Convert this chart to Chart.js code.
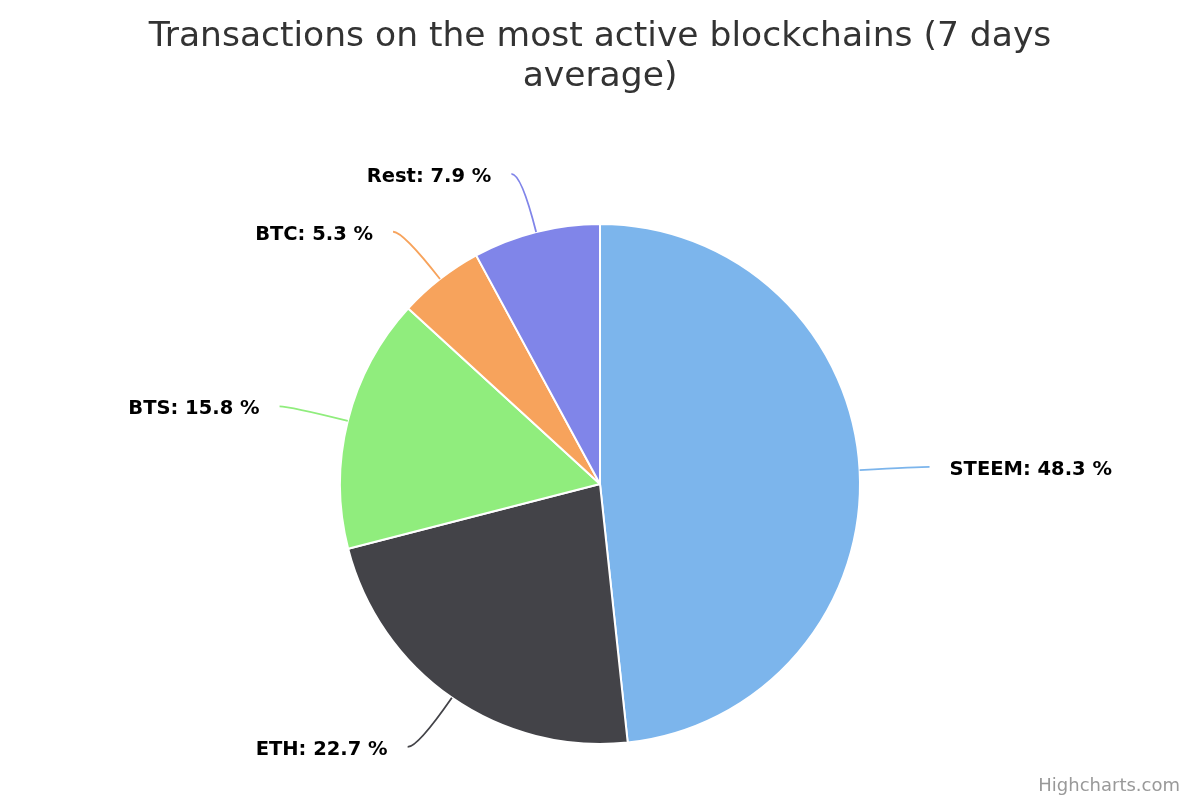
<!DOCTYPE html>
<html>
<head>
<meta charset="utf-8">
<script src="https://cdn.jsdelivr.net/npm/chart.js@4.4.0/dist/chart.umd.min.js"></script>
<style>
  html, body { margin: 0; padding: 0; background: #fff; }
  #wrap { width: 1200px; height: 800px; position: relative; }
</style>
</head>
<body>
<div id="wrap"><canvas id="pie" width="1200" height="800"></canvas></div>
<script>
// --- data ---
const chains = ['STEEM', 'ETH', 'BTS', 'BTC', 'Rest'];
const shares = [48.3, 22.7, 15.8, 5.3, 7.9];
const sliceColors = ['#7cb5ec', '#434348', '#90ed7d', '#f7a35c', '#8085e9'];
const titleLines = ['Transactions on the most active blockchains (7 days', 'average)'];

const FONT = '"DejaVu Sans", "Lucida Grande", sans-serif';

// title, credits and Highcharts-like data labels with connectors
const decorations = {
  id: 'decorations',
  afterDatasetsDraw(chart) {
    const c = chart.ctx;
    c.save();

    // title
    c.fillStyle = '#333333';
    c.font = '34.5px ' + FONT;
    c.textAlign = 'center';
    c.textBaseline = 'middle';
    titleLines.forEach((t, i) => c.fillText(t, 600, 37 + i * 40));

    // credits
    c.fillStyle = '#999999';
    c.font = '18px ' + FONT;
    c.textAlign = 'right';
    c.textBaseline = 'alphabetic';
    c.fillText('Highcharts.com', 1180, 791);

    // data labels
    const meta = chart.getDatasetMeta(0);
    meta.data.forEach((arc, i) => {
      const p = arc.getProps(['x', 'y', 'startAngle', 'endAngle', 'outerRadius'], true);
      const mid = (p.startAngle + p.endAngle) / 2;
      const r = p.outerRadius;
      const R = r + 60;
      const ex = p.x + Math.cos(mid) * r;
      const ey = p.y + Math.sin(mid) * r;
      const ly = p.y + Math.sin(mid) * R;
      const right = Math.cos(mid) >= 0;
      const dx = Math.sqrt(Math.max(R * R - (ly - p.y) * (ly - p.y), 0));
      const xc = p.x + (right ? dx : -dx);
      const cx2 = xc + (right ? 10 : -10);

      c.strokeStyle = sliceColors[i];
      c.lineWidth = 1.8;
      c.beginPath();
      c.moveTo(ex, ey);
      c.quadraticCurveTo(xc, ly, cx2, ly);
      c.stroke();

      c.fillStyle = '#000000';
      c.font = 'bold 19.5px ' + FONT;
      c.textAlign = right ? 'left' : 'right';
      c.textBaseline = 'middle';
      c.fillText(chains[i] + ': ' + shares[i].toFixed(1) + ' %', xc + (right ? 30 : -30), ly + 3);
    });
    c.restore();
  }
};

new Chart(document.getElementById('pie'), {
  type: 'pie',
  data: {
    labels: chains,
    datasets: [{
      data: shares,
      backgroundColor: sliceColors,
      borderColor: '#ffffff',
      borderWidth: 2
    }]
  },
  options: {
    responsive: false,
    animation: false,
    layout: { padding: { top: 223, bottom: 55, left: 339, right: 339 } },
    plugins: {
      legend: { display: false },
      tooltip: { enabled: false },
      title: { display: false }
    }
  },
  plugins: [decorations]
});
</script>
</body>
</html>
